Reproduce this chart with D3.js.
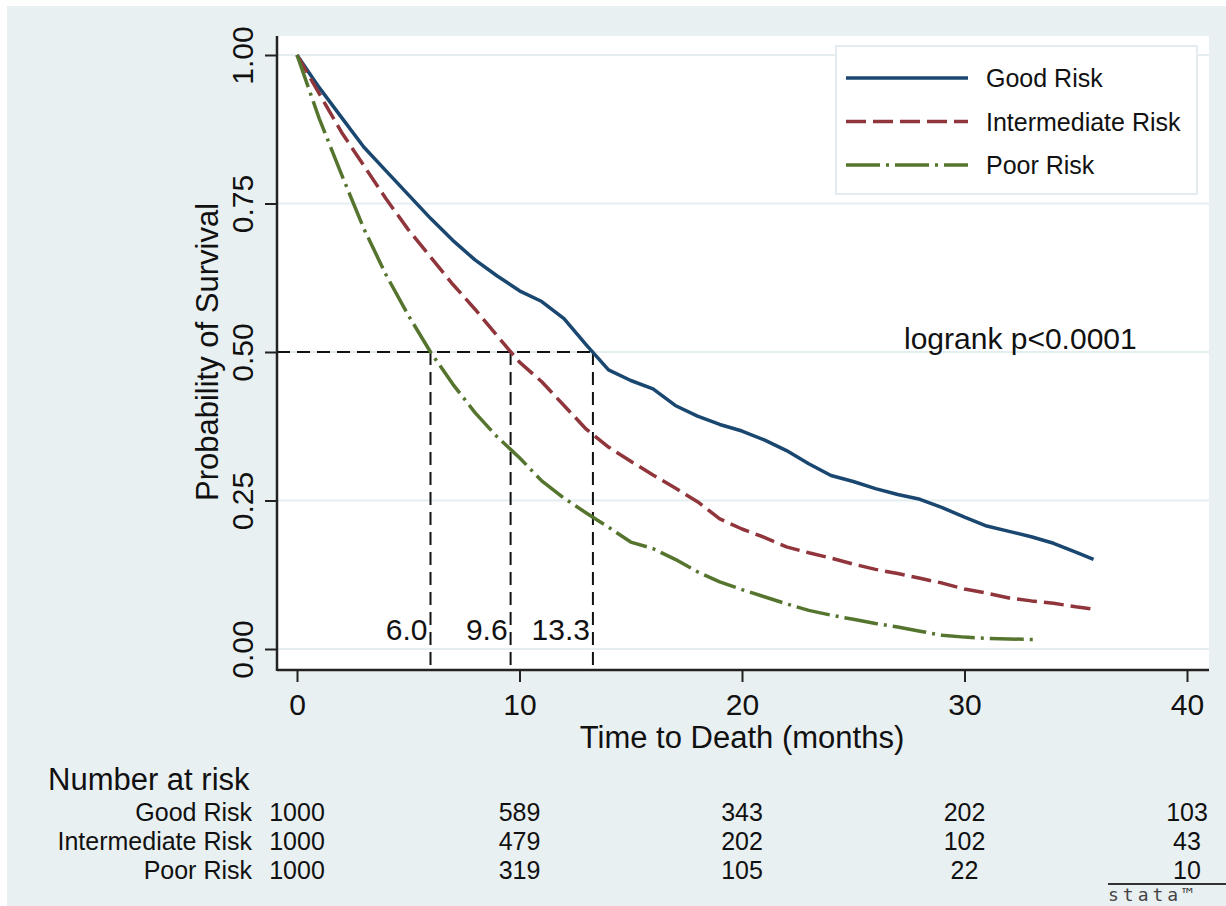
<!DOCTYPE html>
<html>
<head>
<meta charset="utf-8">
<script src="https://cdn.jsdelivr.net/npm/d3@7"></script>
<style>
  html, body { margin: 0; padding: 0; background: #fff; }
  svg { display: block; font-family: "Liberation Sans", Arial, sans-serif; }
</style>
</head>
<body>
<svg id="chart" width="1226" height="906"></svg>
<script>
"use strict";

// months (shared grid)
var months = [0, 1, 2, 3, 4, 5, 6, 7, 8, 9, 10, 11, 12, 13, 14, 15, 16, 17, 18,
              19, 20, 21, 22, 23, 24, 25, 26, 27, 28, 29, 30, 31, 32, 33, 34, 35];

// survival estimates per group
var goodRisk = [1.00, 0.945, 0.895, 0.845, 0.805, 0.765, 0.725, 0.688, 0.655, 0.628,
                0.603, 0.585, 0.556, 0.512, 0.470, 0.452, 0.438, 0.410, 0.392, 0.378,
                0.367, 0.352, 0.334, 0.312, 0.292, 0.282, 0.270, 0.260, 0.252, 0.238,
                0.222, 0.207, 0.198, 0.189, 0.178, 0.163];
var intermediateRisk = [1.00, 0.935, 0.870, 0.814, 0.758, 0.706, 0.660, 0.614, 0.572, 0.527,
                        0.483, 0.450, 0.410, 0.370, 0.340, 0.316, 0.293, 0.271, 0.248, 0.219,
                        0.202, 0.188, 0.172, 0.162, 0.153, 0.143, 0.134, 0.127, 0.119, 0.111,
                        0.101, 0.094, 0.086, 0.081, 0.077, 0.071];
var poorRisk = [1.00, 0.893, 0.799, 0.708, 0.630, 0.562, 0.500, 0.446, 0.398, 0.357,
                0.322, 0.283, 0.254, 0.229, 0.205, 0.180, 0.169, 0.151, 0.130, 0.113,
                0.100, 0.088, 0.076, 0.065, 0.057, 0.050, 0.043, 0.037, 0.030, 0.023,
                0.020, 0.018, 0.017, 0.016];

// last follow-up point of each curve
var lastTime = [35.8, 35.8, 33.1];
var lastSurv = [0.151, 0.067, 0.016];

var groups = ["Good Risk", "Intermediate Risk", "Poor Risk"];
var medians = [6.0, 9.6, 13.3];
var medianLabels = ["6.0", "9.6", "13.3"];

var xTicks = [0, 10, 20, 30, 40];
var yTicks = [0, 0.25, 0.5, 0.75, 1];

// number at risk at each x tick
var atRisk = [
    [1000, 589, 343, 202, 103],
    [1000, 479, 202, 102, 43],
    [1000, 319, 105, 22, 10]
];

var colors = ["#1a476f", "#90353b", "#55752f"];
var dashes = [null, "20,7", "34,6,3,6"];

var svg = d3.select("#chart");

// graph region (light bluish) and plot region (white)
svg.append("rect").attr("x", 7).attr("y", 6).attr("width", 1219).attr("height", 900)
    .attr("fill", "#e9f0f2");
svg.append("rect").attr("x", 277).attr("y", 36).attr("width", 932).attr("height", 634)
    .attr("fill", "#fff");

var x = d3.scaleLinear().domain([0, 40]).range([297, 1187]);
var y = d3.scaleLinear().domain([0, 1]).range([649, 55]);

//网格线
svg.append("g").selectAll("line").data(yTicks).enter().append("line")
    .attr("x1", 277).attr("x2", 1209)
    .attr("y1", function(d){ return y(d); })
    .attr("y2", function(d){ return y(d); })
    .attr("stroke", "#e4eef1").attr("stroke-width", 2);

// legend box
var legend = svg.append("g");
legend.append("rect").attr("x", 836).attr("y", 46).attr("width", 361).attr("height", 148)
    .attr("fill", "#fff").attr("stroke", "#e4ecef").attr("stroke-width", 2);
groups.forEach(function(g, i){
    var ly = 78 + i * 43.5;
    legend.append("line").attr("x1", 846).attr("x2", 968).attr("y1", ly).attr("y2", ly)
        .attr("stroke", colors[i]).attr("stroke-width", 3.5)
        .attr("stroke-dasharray", dashes[i]);
    legend.append("text").attr("x", 986).attr("y", ly + 9)
        .attr("font-size", 25).attr("fill", "#111").text(g);
});

// median reference lines
var refDash = "13,7";
svg.append("line")
    .attr("x1", 277).attr("x2", x(d3.max(medians)))
    .attr("y1", y(0.5)).attr("y2", y(0.5))
    .attr("stroke", "#111").attr("stroke-width", 2).attr("stroke-dasharray", refDash);
svg.append("g").selectAll("line").data(medians).enter().append("line")
    .attr("x1", function(d){ return x(d); })
    .attr("x2", function(d){ return x(d); })
    .attr("y1", y(0.5)).attr("y2", 670)
    .attr("stroke", "#111").attr("stroke-width", 2).attr("stroke-dasharray", refDash);
svg.append("g").selectAll("text").data(medians).enter().append("text")
    .attr("x", function(d){ return x(d) - 3; })
    .attr("y", 640)
    .attr("text-anchor", "end")
    .attr("font-size", 30).attr("fill", "#111")
    .text(function(d, i){ return medianLabels[i]; });

// survival curves
var series = [goodRisk, intermediateRisk, poorRisk];
var line = d3.line()
    .x(function(d){ return x(d[0]); })
    .y(function(d){ return y(d[1]); });

series.forEach(function(vals, i){
    var pts = vals.map(function(v, k){ return [months[k], v]; });
    pts.push([lastTime[i], lastSurv[i]]);
    svg.append("path").datum(pts)
        .attr("d", line)
        .attr("fill", "none")
        .attr("stroke", colors[i])
        .attr("stroke-width", 3.5)
        .attr("stroke-linejoin", "round")
        .attr("stroke-dasharray", dashes[i]);
});

// logrank annotation
svg.append("text").attr("x", 904).attr("y", 349)
    .attr("font-size", 30).attr("fill", "#111").text("logrank p<0.0001");

// x axis
var xAxis = svg.append("g").attr("transform", "translate(0,670)")
    .call(d3.axisBottom(x).tickValues(xTicks).tickSize(12).tickPadding(12));
xAxis.select(".domain").remove();
xAxis.selectAll("line").attr("stroke", "#222").attr("stroke-width", 2);
xAxis.selectAll("text").attr("font-size", 30).attr("fill", "#111")
    .attr("font-family", null);
svg.append("line").attr("x1", 277).attr("x2", 1209).attr("y1", 670).attr("y2", 670)
    .attr("stroke", "#222").attr("stroke-width", 2.5);

// y axis
var yAxis = svg.append("g").attr("transform", "translate(277,0)")
    .call(d3.axisLeft(y).tickValues(yTicks).tickSize(12).tickFormat(d3.format(".2f")));
yAxis.select(".domain").remove();
yAxis.selectAll("line").attr("stroke", "#222").attr("stroke-width", 2);
yAxis.selectAll("text")
    .attr("x", 0).attr("dy", null)
    .attr("text-anchor", "middle")
    .attr("transform", "translate(-24,0) rotate(-90)")
    .attr("font-size", 30).attr("fill", "#111")
    .attr("font-family", null);
svg.append("line").attr("x1", 277).attr("x2", 277).attr("y1", 36).attr("y2", 671)
    .attr("stroke", "#222").attr("stroke-width", 2.5);

// axis titles
svg.append("text").attr("x", 742).attr("y", 748).attr("text-anchor", "middle")
    .attr("font-size", 31).attr("fill", "#111").text("Time to Death (months)");
svg.append("text").attr("transform", "translate(218,352) rotate(-90)")
    .attr("text-anchor", "middle")
    .attr("font-size", 31).attr("fill", "#111").text("Probability of Survival");

// number at risk table
svg.append("text").attr("x", 48).attr("y", 790)
    .attr("font-size", 31).attr("fill", "#111").text("Number at risk");
var rowY = [821, 850, 879];
groups.forEach(function(g, i){
    svg.append("text").attr("x", 252).attr("y", rowY[i]).attr("text-anchor", "end")
        .attr("font-size", 25).attr("fill", "#111").text(g);
    svg.append("g").selectAll("text").data(atRisk[i]).enter().append("text")
        .attr("x", function(d, k){ return x(xTicks[k]); })
        .attr("y", rowY[i])
        .attr("text-anchor", "middle")
        .attr("font-size", 25).attr("fill", "#111")
        .text(function(d){ return d; });
});

// stata mark
svg.append("line").attr("x1", 1108).attr("x2", 1226).attr("y1", 884).attr("y2", 884)
    .attr("stroke", "#333").attr("stroke-width", 2);
svg.append("text").attr("x", 1108).attr("y", 901)
    .attr("font-family", "DejaVu Sans Mono, monospace")
    .attr("font-size", 18).attr("letter-spacing", 4).attr("fill", "#444")
    .text("stata\u2122");
</script>
</body>
</html>
